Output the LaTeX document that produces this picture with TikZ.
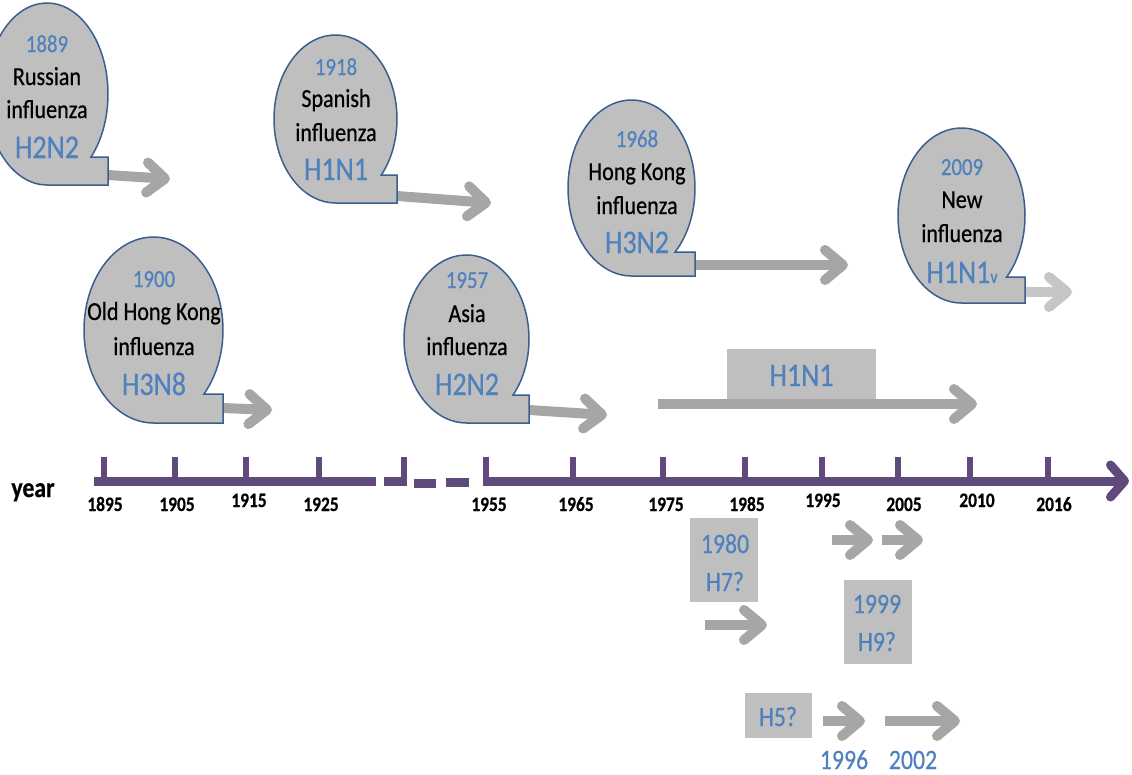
\documentclass[tikz,border=0pt]{standalone}
\usepackage{fontspec}
\setmainfont{Carlito}[FakeStretch=0.85, FakeBold=0.5]
\usetikzlibrary{arrows.meta}
\definecolor{bubblefill}{HTML}{BFBFBF}
\definecolor{bubbleline}{HTML}{3A5F8F}
\definecolor{arrowgray}{HTML}{A6A6A6}
\definecolor{lightarrow}{HTML}{C6C6C6}
\definecolor{boxgray}{HTML}{BFBFBF}
\definecolor{fluBlue}{HTML}{4F81BD}
\definecolor{tlpurple}{HTML}{604A7B}
\newcommand\flububble[5]{% left, top, right, bottom, notch y
  \pgfmathsetmacro\bcx{(#1+#3)/2}%
  \pgfmathsetmacro\brx{(#3-#1)/2}%
  \pgfmathsetmacro\bcy{(#2+#4)/2}%
  \pgfmathsetmacro\bry{(#4-#2)/2}%
  \pgfmathsetmacro\bth{asin((#5-\bcy)/\bry)}%
  \pgfmathsetmacro\bnx{\bcx+\brx*cos(\bth)}%
  \draw[bubble] (\bcx,#4) -- (#3,#4) -- (#3,#5) -- (\bnx,#5)
    arc[start angle=\bth, end angle=-270, x radius=\brx, y radius=\bry] -- cycle;
}
\begin{document}
\begin{tikzpicture}[x=1pt,y=-1pt,
  bubble/.style={fill=bubblefill, draw=bubbleline, line width=1.5pt, line join=miter},
  garrow/.style={draw=arrowgray, line width=10pt, -{Straight Barb[length=18pt,width=30pt,round]}},
  larrow/.style={garrow, draw=lightarrow},
  tline/.style={draw=tlpurple, line width=9pt},
  tick/.style={draw=tlpurple, line width=6pt},
  gbox/.style={fill=boxgray, draw=none, inner sep=0pt},
  yr/.style={text=fluBlue, font=\fontsize{24.5}{28}\selectfont, anchor=base, inner sep=0pt},
  nm/.style={text=black, font=\fontsize{26}{30}\selectfont, anchor=base, inner sep=0pt},
  sub/.style={text=fluBlue, font=\fontsize{33}{38}\selectfont, anchor=base, inner sep=0pt},
  lbl/.style={text=fluBlue, font=\fontsize{28}{32}\selectfont, anchor=base, inner sep=0pt},
  tl/.style={text=black, font=\fontsize{20.5}{24}\selectfont\bfseries, anchor=base, inner sep=0pt}
]
\useasboundingbox (0,0) rectangle (1132,774);
\clip (0,0) rectangle (1132,774);

% ---------- arrows from bubbles ----------
\coordinate (a1s) at (108,175); \coordinate (a1e) at (170,179);
\coordinate (a2s) at (397,196); \coordinate (a2e) at (491,203);
\coordinate (a3s) at (223,408); \coordinate (a3e) at (272,410);
\coordinate (a4s) at (529,410); \coordinate (a4e) at (607,415);
\coordinate (a5s) at (695,265); \coordinate (a5e) at (848,265);
\coordinate (a6s) at (1025,292); \coordinate (a6e) at (1072,292);
\draw[garrow] (a1s) -- (a1e);
\draw[garrow] (a2s) -- (a2e);
\draw[garrow] (a3s) -- (a3e);
\draw[garrow] (a4s) -- (a4e);
\draw[garrow] (a5s) -- (a5e);
\draw[larrow] (a6s) -- (a6e);

% ---------- bubbles ----------
\flububble{-14}{3}{108}{185}{157}
\node[yr]  (b1y) at (47,52)  {1889};
\node[nm]  (b1a) at (47,85)  {Russian};
\node[nm]  (b1b) at (47,118) {influenza};
\node[sub] (b1c) at (47,158) {H2N2};

\flububble{274}{35}{397}{203}{175}
\node[yr]  (b2y) at (336,75)  {1918};
\node[nm]  (b2a) at (336,107) {Spanish};
\node[nm]  (b2b) at (336,141) {influenza};
\node[sub] (b2c) at (336,180) {H1N1};

\flububble{84}{237}{223}{423}{394}
\node[yr]  (b3y) at (154,287) {1900};
\node[nm]  (b3a) at (154,320) {Old Hong Kong};
\node[nm]  (b3b) at (154,355) {influenza};
\node[sub] (b3c) at (154,395) {H3N8};

\flububble{404}{255}{529}{423}{395}
\node[yr]  (b4y) at (467,288) {1957};
\node[nm]  (b4a) at (467,322) {Asia};
\node[nm]  (b4b) at (467,355) {influenza};
\node[sub] (b4c) at (467,395) {H2N2};

\flububble{568}{100}{695}{276}{252}
\node[yr]  (b5y) at (637,147) {1968};
\node[nm]  (b5a) at (637,180) {Hong Kong};
\node[nm]  (b5b) at (637,214) {influenza};
\node[sub] (b5c) at (637,253) {H3N2};

\flububble{898}{128}{1025}{303}{277}
\node[yr]  (b6y) at (962,175) {2009};
\node[nm]  (b6a) at (962,208) {New};
\node[nm]  (b6b) at (962,242) {influenza};
\node[sub] (b6c) at (962,283) {H1N1{\fontsize{19}{22}\selectfont v}};

% ---------- H1N1 bar ----------
\coordinate (a7s) at (658,404); \coordinate (a7e) at (977,404);
\draw[garrow] (a7s) -- (a7e);
\node[gbox, minimum width=149pt, minimum height=50pt] (h1box) at (801.5,374) {};
\node[sub] (h1txt) at (801.5,386) {H1N1};

% ---------- timeline ----------
\node[text=black, font=\fontsize{28}{32}\selectfont\bfseries, anchor=base, inner sep=0pt] (year) at (33,497) {year};
\coordinate (t0) at (94,481);   \coordinate (t1) at (376,481);
\coordinate (t2) at (384,481);  \coordinate (t3) at (407,481);
\coordinate (d1s) at (414,483); \coordinate (d1e) at (436,483);
\coordinate (d2s) at (446,482); \coordinate (d2e) at (469,482);
\coordinate (t4) at (483,481);  \coordinate (tend) at (1129,481);
\draw[tline] (t0) -- (t1);
\draw[tline] (t2) -- (t3);
\draw[tline] (d1s) -- (d1e);
\draw[tline] (d2s) -- (d2e);
\draw[tline, -{Straight Barb[length=14pt,width=32pt,round]}] (t4) -- (tend);
\foreach \x in {104,175,246,319,404,486,573,663,745,822,898,970,1048}
  \draw[tick] (\x,457) -- (\x,481);

\node[tl] (y1895) at (105,511) {1895};
\node[tl] (y1905) at (177,511) {1905};
\node[tl] (y1915) at (249,507) {1915};
\node[tl] (y1925) at (321,511) {1925};
\node[tl] (y1955) at (489,511) {1955};
\node[tl] (y1965) at (576,511) {1965};
\node[tl] (y1975) at (666,511) {1975};
\node[tl] (y1985) at (747,511) {1985};
\node[tl] (y1995) at (823,507) {1995};
\node[tl] (y2005) at (904,511) {2005};
\node[tl] (y2010) at (977,507) {2010};
\node[tl] (y2016) at (1054,511) {2016};

% ---------- lower section ----------
\node[gbox, minimum width=68pt, minimum height=84pt] (h7box) at (724,560) {};
\node[lbl] (h7y) at (725,553) {1980};
\node[lbl] (h7t) at (725,591) {H7?};
\coordinate (a10s) at (705,625); \coordinate (a10e) at (767,625);
\draw[garrow] (a10s) -- (a10e);

\coordinate (a8s) at (832,540); \coordinate (a8e) at (873,540);
\coordinate (a9s) at (882,540); \coordinate (a9e) at (923,540);
\draw[garrow] (a8s) -- (a8e);
\draw[garrow] (a9s) -- (a9e);

\node[gbox, minimum width=68pt, minimum height=84pt] (h9box) at (878,622) {};
\node[lbl] (h9y) at (877,613) {1999};
\node[lbl] (h9t) at (877,651) {H9?};

\node[gbox, minimum width=67pt, minimum height=45pt] (h5box) at (778.5,715.5) {};
\node[lbl] (h5t) at (778,726) {H5?};
\coordinate (a11s) at (823,721); \coordinate (a11e) at (865,721);
\coordinate (a12s) at (885,721); \coordinate (a12e) at (960,721);
\draw[garrow] (a11s) -- (a11e);
\draw[garrow] (a12s) -- (a12e);
\node[lbl] (y1996) at (844,769) {1996};
\node[lbl] (y2002) at (913,769) {2002};
\end{tikzpicture}
\end{document}
